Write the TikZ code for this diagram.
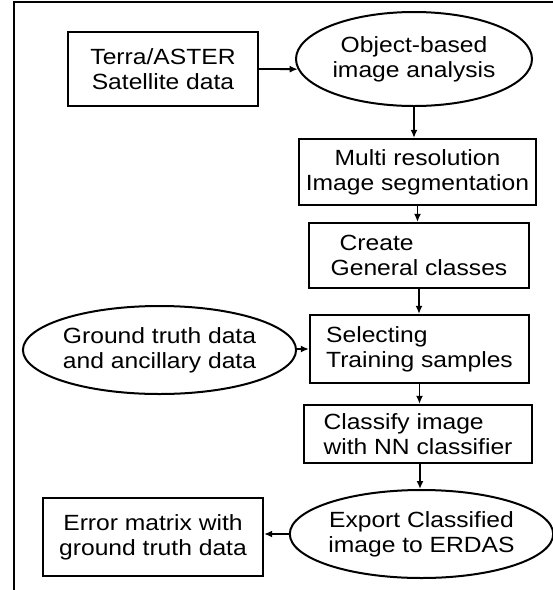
\documentclass[tikz,border=0pt]{standalone}
\usepackage{fontspec}
\setmainfont{Liberation Sans}[FakeStretch=1.12]
\usetikzlibrary{shapes.geometric,arrows.meta}
\begin{document}
\begin{tikzpicture}[x=1pt,y=-1pt,
  every node/.style={font=\fontsize{22}{25}\selectfont, inner sep=0pt},
  boxnode/.style={draw, line width=2.2pt, rectangle, align=center},
  ovalnode/.style={draw, line width=2pt, ellipse, align=center},
  arr/.style={line width=1.8pt, -{Latex[length=8pt,width=7pt]}},
  frameline/.style={line width=2.8pt}]
\useasboundingbox (0,0) rectangle (553,590);
\draw[frameline] (14,590) coordinate (fb) -- (14,2) coordinate (fc) -- (553,2) coordinate (fr);
\node[boxnode, minimum width=190pt, minimum height=74pt] (terra) at (163,69) {Terra/ASTER\\Satellite data};
\node[ovalnode, minimum width=236pt, minimum height=94pt] (obj) at (414,59) {Object-based\\image analysis};
\node[boxnode, minimum width=237pt, minimum height=66pt] (multi) at (417.5,172) {Multi resolution\\Image segmentation};
\node[boxnode, minimum width=220pt, minimum height=65pt, align=left] (create) at (419,255.5) {\hspace{9pt}Create\\General classes};
\node[boxnode, minimum width=219pt, minimum height=68pt, align=left] (sel) at (419.5,349) {Selecting\\Training samples};
\node[ovalnode, minimum width=245pt, minimum height=88pt] (ground) at (159.5,350) {Ground truth data\\and ancillary data};
\node[boxnode, minimum width=228pt, minimum height=58pt, align=left] (classify) at (418,434) {Classify image\\with NN classifier};
\node[ovalnode, minimum width=247pt, minimum height=88pt] (export) at (421.5,534) {Export Classified\\image to ERDAS};
\node[boxnode, minimum width=220pt, minimum height=78pt] (error) at (153,537) {Error matrix with\\ground truth data};
\draw[arr] (terra.east) -- (obj.185);
\draw[arr] (obj.south) -- (obj.south |- multi.north);
\draw[arr] (multi.south) -- (multi.south |- create.north);
\draw[arr] (create.south) -- (create.south |- sel.north);
\draw[arr] (ground.east |- sel.west) -- (sel.west);
\draw[arr] (sel.south) -- (sel.south |- classify.north);
\draw[arr] ([xshift=2pt]classify.south) -- ([xshift=2pt]classify.south |- export.north);
\draw[arr] (export.west) -- (export.west -| error.east);
\end{tikzpicture}
\end{document}
